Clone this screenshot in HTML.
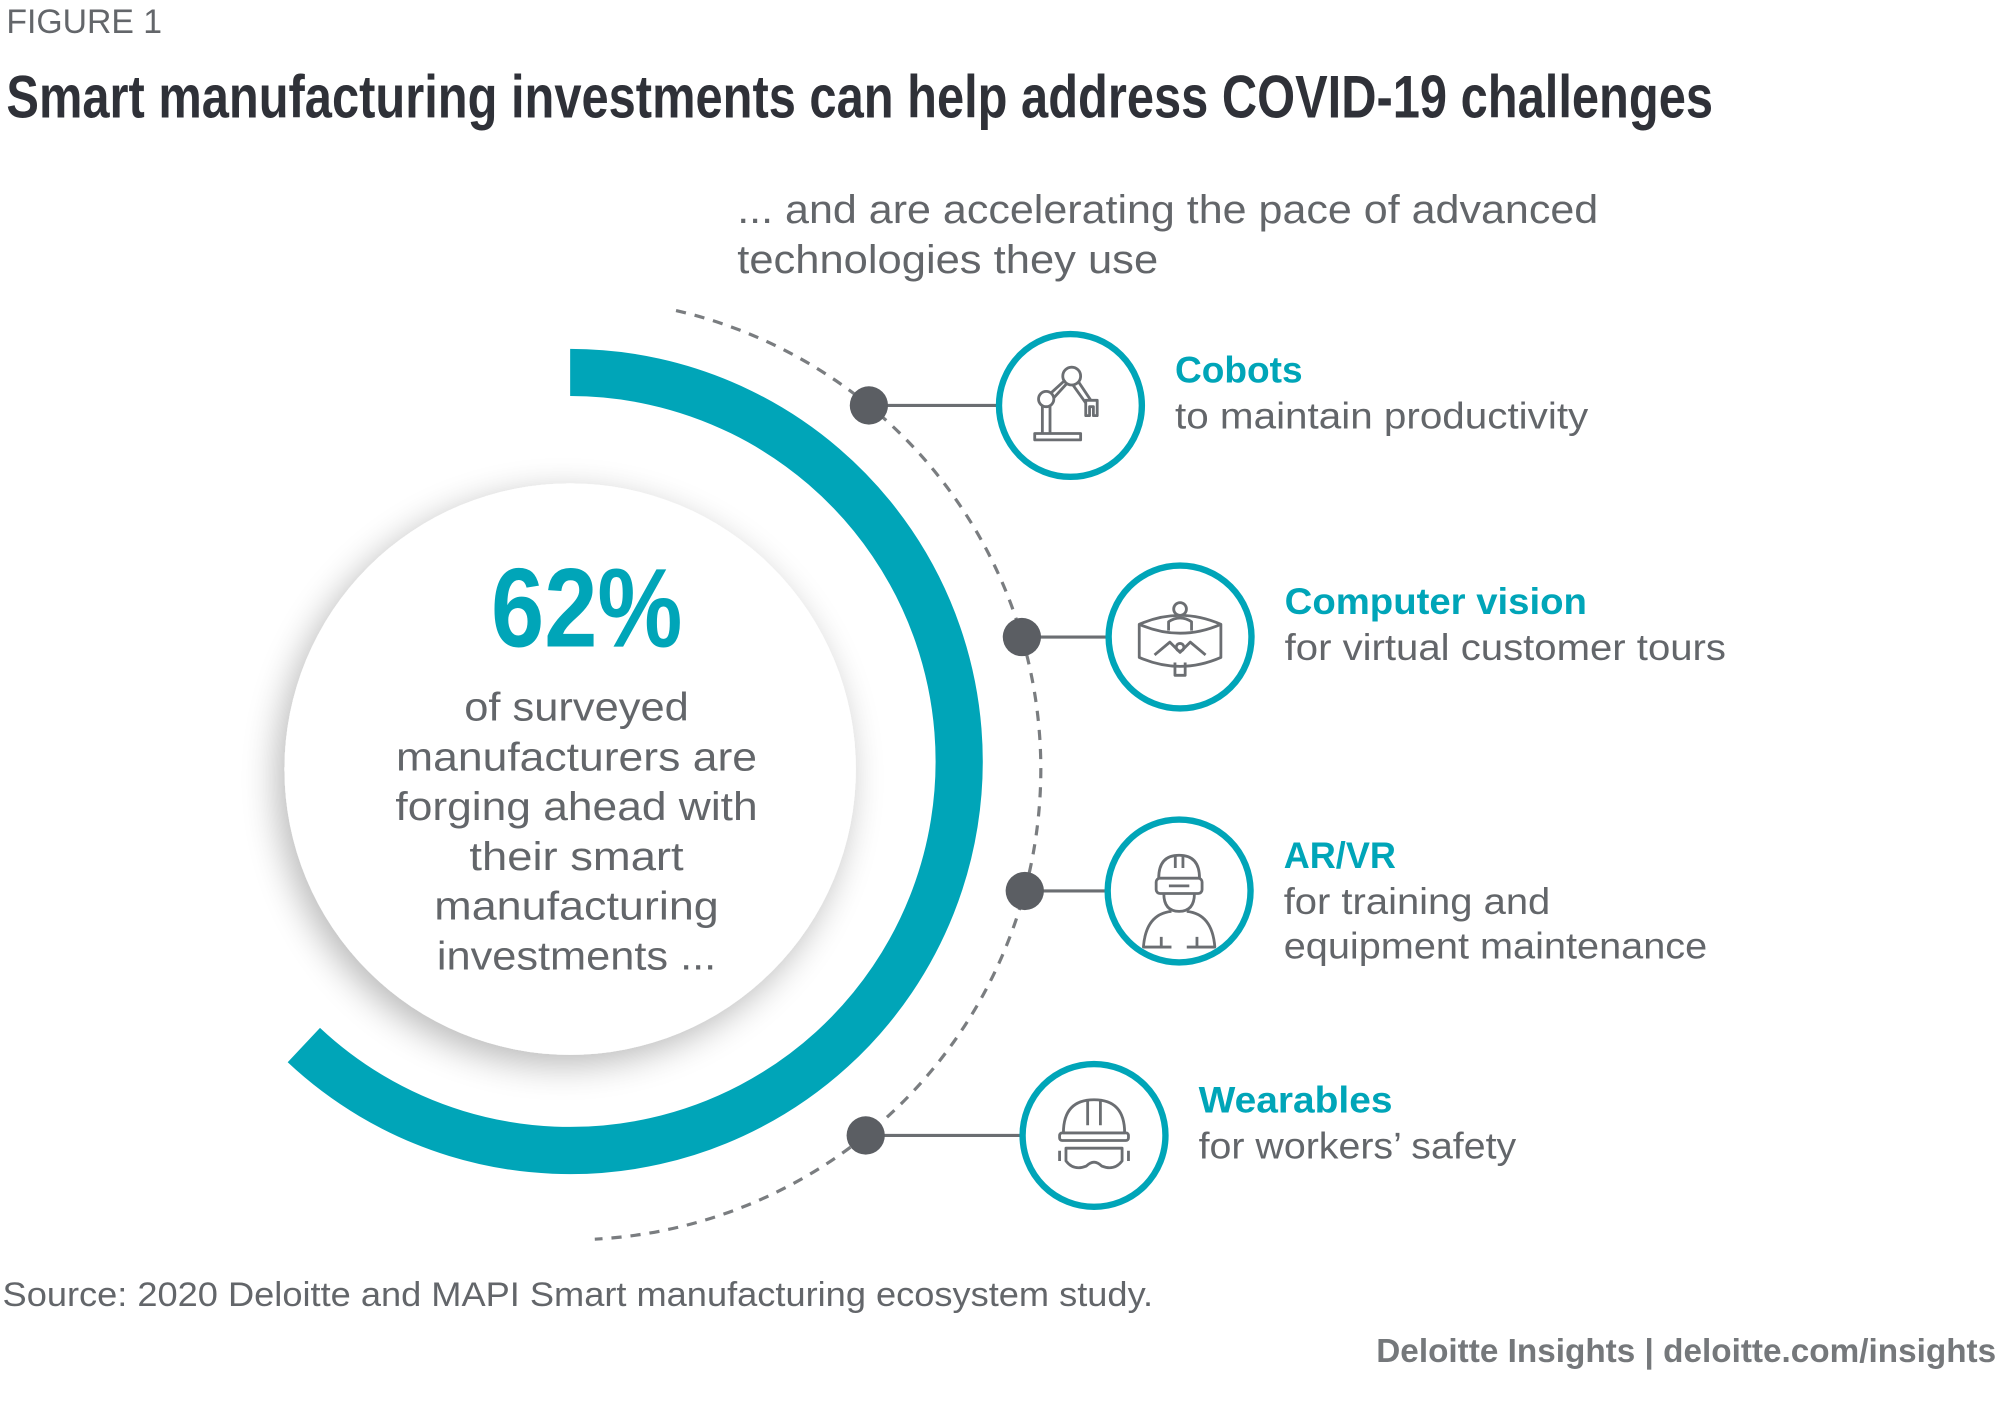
<!DOCTYPE html>
<html><head><meta charset="utf-8"><style>
html,body{margin:0;padding:0;background:#fff;}
svg{display:block;}
text{font-family:"Liberation Sans",sans-serif;}
</style></head><body>
<svg id="fig" width="2000" height="1412" viewBox="0 0 1568 1107" preserveAspectRatio="none" xmlns="http://www.w3.org/2000/svg">
<defs>
<filter id="sh" x="-30%" y="-30%" width="160%" height="160%"><feGaussianBlur in="SourceAlpha" stdDeviation="14"/><feOffset dx="-6" dy="8"/><feComponentTransfer><feFuncA type="linear" slope="0.28"/></feComponentTransfer><feMerge><feMergeNode/><feMergeNode in="SourceGraphic"/></feMerge></filter>
</defs>
<text x="5" y="26" font-size="27" fill="#63666a" textLength="122" lengthAdjust="spacingAndGlyphs">FIGURE 1</text>
<text x="5" y="92" font-size="47" font-weight="bold" fill="#2f3138" textLength="1338" lengthAdjust="spacingAndGlyphs">Smart manufacturing investments can help address COVID-19 challenges</text>
<text x="578" y="175" font-size="31" fill="#63666a" textLength="675" lengthAdjust="spacingAndGlyphs">... and are accelerating the pace of advanced</text>
<text x="578" y="214" font-size="31" fill="#63666a" textLength="330" lengthAdjust="spacingAndGlyphs">technologies they use</text>
<g id="chart"></g>
<text x="2" y="1024" font-size="27" fill="#63666a" textLength="902" lengthAdjust="spacingAndGlyphs">Source: 2020 Deloitte and MAPI Smart manufacturing ecosystem study.</text>
<text x="1565" y="1068" font-size="26" font-weight="bold" fill="#75787b" text-anchor="end" textLength="486" lengthAdjust="spacingAndGlyphs">Deloitte Insights | deloitte.com/insights</text>
</svg>
<script>
const pctValue = 62;
const pctLabel = ["62%"];
const bodyLines = ["of surveyed","manufacturers are","forging ahead with","their smart","manufacturing","investments ..."];
const techTitles = ["Cobots","Computer vision","AR/VR","Wearables"];
const techSubs = [["to maintain productivity"],["for virtual customer tours"],["for training and","equipment maintenance"],["for workers’ safety"]];
const techAngles = [-50.6, -16.3, 15, 51.1];

const NS="http://www.w3.org/2000/svg";
const g=document.getElementById('chart');
const TEAL="#00a5b8", GRAY="#63666a", DOT="#5b5e63";
const cx=447, cy=597, R=305, RD=369, cyD=603;
const bodyW=[176,283,284,168,223,219];
const titleW=[100,237,88,152];
const subW=[[324],[346],[209,332],[249]];
function mk(t,a,p){const e=document.createElementNS(NS,t);for(const k in a)e.setAttribute(k,a[k]);(p||g).appendChild(e);return e;}
function pt(r,deg,yc){const a=deg*Math.PI/180;return [cx+r*Math.cos(a),(yc||cy)+r*Math.sin(a)];}
function arcPath(r,a0,a1,yc){const p0=pt(r,a0,yc),p1=pt(r,a1,yc);const large=(a1-a0)>180?1:0;return `M${p0[0]},${p0[1]} A${r},${r} 0 ${large} 1 ${p1[0]},${p1[1]}`;}

let dash=mk('path',{d:arcPath(RD,-77,87,cyD),fill:'none',stroke:'#7a7d80','stroke-width':2.5,'stroke-dasharray':'8 7'});



const a0=-90, a1=-90+pctValue/100*360;
let arc=mk('path',{d:arcPath(R,a0,a1),fill:'none',stroke:TEAL,'stroke-width':37});



let inner=mk('circle',{cx:cx,cy:cy+6,r:224,fill:'#fff',filter:'url(#sh)'});



let big=mk('text',{x:460,y:507,'font-size':88,'font-weight':'bold',fill:TEAL,'text-anchor':'middle',textLength:150,lengthAdjust:'spacingAndGlyphs'});
big.textContent=pctLabel[0];


bodyLines.forEach((l,i)=>{
  const t=mk('text',{x:452,y:565+i*39,'font-size':31,fill:GRAY,'text-anchor':'middle',textLength:bodyW[i],lengthAdjust:'spacingAndGlyphs'});
  t.textContent=l;
  
  
});

const icons=[
 '<rect x="-28" y="22" width="36" height="5"/><path d="M-22 22 V0 M-16 22 V0"/><circle cx="-19" cy="-5" r="6"/><circle cx="1" cy="-23" r="7"/><path d="M-15 -10 L-4 -20 M-13 -6 L-3 -17 M6 -19 L16 -4 M2 -16 L12 -2"/><path d="M12 -4 h9 v12 h-3 v-7 h-3 v7 h-3 z"/>',
 '<circle cx="0" cy="-22" r="5"/><path d="M-9 -5 v-7 q9 -6 18 0 v7"/><path d="M-32 -10 q32 -14 64 0 v26 q-32 14 -64 0 z"/><path d="M-32 -10 q32 14 64 0"/><circle cx="0" cy="8" r="3"/><path d="M-20 14 L-8 4 L0 12 L8 4 L20 14"/><path d="M-4 20 v10 h8 v-10"/>',
 '<path d="M-16 -10 q0 -18 16 -18 q16 0 16 18"/><path d="M-3 -28 v10 M3 -28 v10"/><rect x="-18" y="-10" width="36" height="12" rx="3"/><path d="M-8 -4 h16"/><path d="M-12 2 q0 14 12 14 q12 0 12 -14"/><path d="M-6 16 q-20 2 -22 28 h22 M6 16 q20 2 22 28 h-22 M-14 36 v8 M14 36 v8"/>',
 '<path d="M-24 -2 q0 -26 24 -26 q24 0 24 26 z"/><path d="M-5 -28 v20 M5 -28 v20"/><rect x="-27" y="-2" width="54" height="6" rx="2"/><path d="M-22 10 h44 v10 q-6 8 -16 4 q-6 -6 -12 0 q-10 4 -16 -4 z"/><path d="M-27 12 v8 M27 12 v8"/>'
];
const offsets=[158,124,121,179];
techTitles.forEach((title,i)=>{
  const [dx,dy]=pt(RD,techAngles[i],cyD);
  const icx=dx+offsets[i];
  const grp=mk('g',{});
  
  
  mk('line',{x1:dx,y1:dy,x2:icx-57,y2:dy,stroke:'#6b6e72','stroke-width':2.5},grp);
  const d=mk('circle',{cx:dx,cy:dy,r:15,fill:DOT},grp);
  
  
  const c=mk('circle',{cx:icx,cy:dy,r:56,fill:'#fff',stroke:TEAL,'stroke-width':5},grp);
  
  
  const ic=mk('g',{transform:`translate(${icx},${dy})`,fill:'none',stroke:'#6b6e72','stroke-width':2.2,'stroke-linejoin':'round'},grp);
  ic.innerHTML=icons[i];
  
  
  const tx=icx+82;
  const tt=mk('text',{x:tx,y:dy-18,'font-size':29,'font-weight':'bold',fill:TEAL,textLength:titleW[i],lengthAdjust:'spacingAndGlyphs'},grp);
  tt.textContent=title;
  
  
  techSubs[i].forEach((s,j)=>{
    const st=mk('text',{x:tx,y:dy+18+j*35,'font-size':29,fill:GRAY,textLength:subW[i][j],lengthAdjust:'spacingAndGlyphs'},grp);
    st.textContent=s;
    
    
  });
});
</script>
</body></html>
